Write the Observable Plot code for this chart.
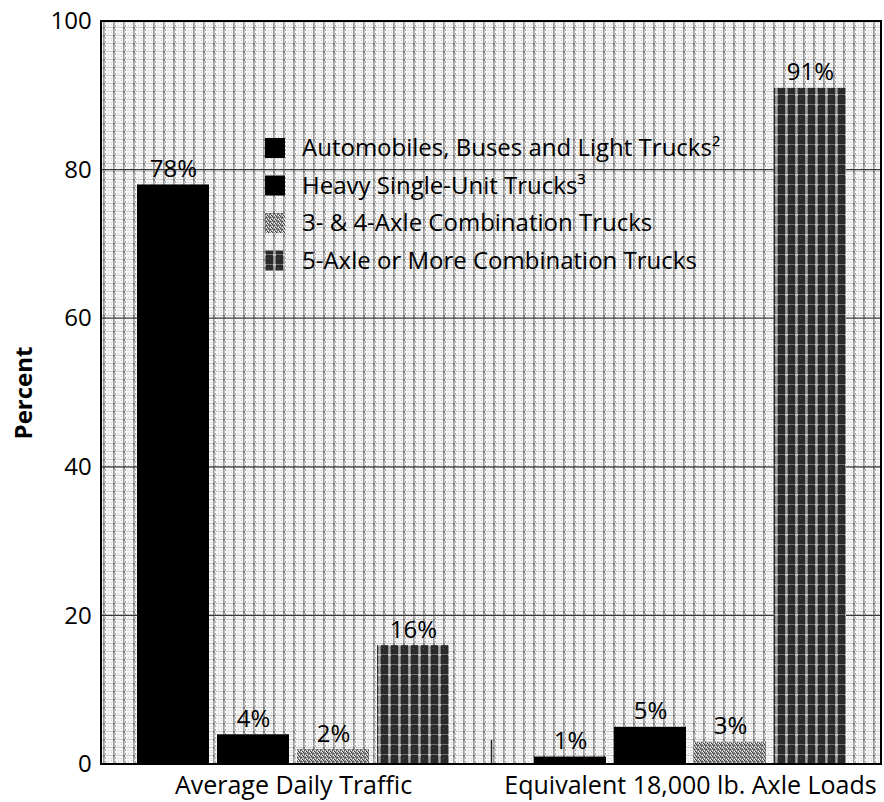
<!DOCTYPE html>
<html>
<head>
<meta charset="utf-8">
<script src="https://cdn.jsdelivr.net/npm/d3@7"></script>
<script src="https://cdn.jsdelivr.net/npm/@observablehq/plot@0.6"></script>
<style>
  html, body { margin: 0; padding: 0; background: #ffffff; }
  #chart svg { display: block; }
  #chart g[aria-label="y-axis tick label"] text { font-size: 24px; }
  #chart g[aria-label="y-axis label"] text { font-size: 24px; font-weight: bold; }
  #chart g[aria-label="fx-axis tick label"] text { font-size: 25px; }
</style>
</head>
<body>
<div id="chart"></div>
<script>
// ---- data ----
const groups = ["Average Daily Traffic", "Equivalent 18,000 lb. Axle Loads"];
const series = [
  "Automobiles, Buses and Light Trucks²",
  "Heavy Single-Unit Trucks³",
  "3- & 4-Axle Combination Trucks",
  "5-Axle or More Combination Trucks"
];
const averageDailyTraffic = [78, 4, 2, 16];
const equivalentAxleLoads = [1, 5, 3, 91];
const yTicks = [0, 20, 40, 60, 80, 100];
const gridValues = [20, 40, 60, 80];

// ---- styles ----
const seriesFills = ["#000000", "#000000", "url(#pat3)", "url(#pat4)"];

(function () {
const valuesByGroup = [averageDailyTraffic, equivalentAxleLoads];
const data = groups.flatMap((g, gi) =>
  series.map((s, si) => ({group: g, series: s, value: valuesByGroup[gi][si]}))
);

const W = 884, H = 802;
const mL = 101, mR = 3, mT = 21, mB = 38;
const fxPadIn = 0.21, fxPadOut = 0.085;
// the y axis is attached to the first facet, so offset it back to the frame edge
const fxStep = (W - mL - mR) / (groups.length - fxPadIn + 2 * fxPadOut);
const axisShift = fxPadOut * fxStep;
const font = "'Open Sans', Lato, sans-serif";

const plot = Plot.plot({
  width: W,
  height: H,
  marginLeft: mL,
  marginRight: mR,
  marginTop: mT,
  marginBottom: mB,
  style: {fontFamily: font, fontSize: "23px", color: "#000", background: "transparent", overflow: "visible"},
  fx: {domain: groups, axis: "bottom", paddingInner: fxPadIn, paddingOuter: fxPadOut, label: null, tickSize: 0, tickPadding: 12},
  x: {domain: series, axis: null, paddingInner: 0.1, paddingOuter: 0},
  y: {domain: [0, 100], ticks: yTicks, tickSize: 0, tickPadding: 11 + axisShift, label: "Percent", labelAnchor: "center", labelOffset: 88 + axisShift, labelArrow: false},
  color: {domain: series, range: seriesFills},
  marks: [
    Plot.barY(data, {fx: "group", x: "series", y: "value", fill: "series"}),
    Plot.text(data, {fx: "group", x: "series", y: "value", text: d => `${d.value}%`, lineAnchor: "bottom", dy: -8, fontSize: 24, fill: "#000"})
  ]
});

document.getElementById("chart").appendChild(plot);

// ---- decoration: patterns, background, grid, legend, frame ----
const svg = d3.select(plot);
const yS = plot.scale("y");
const fxS = plot.scale("fx");
const xLeft = mL, xRight = W - mR;
const yTop = yS.apply(100), yBottom = yS.apply(0);

const defs = svg.insert("defs", ":first-child");
function addPattern(id, w, h, base, cells) {
  const p = defs.append("pattern").attr("id", id).attr("patternUnits", "userSpaceOnUse")
    .attr("width", w).attr("height", h);
  p.append("rect").attr("width", w).attr("height", h).attr("fill", base);
  cells.forEach(([x, y, cw, ch, c]) =>
    p.append("rect").attr("x", x).attr("y", y).attr("width", cw).attr("height", ch)
      .attr("fill", c).attr("shape-rendering", "crispEdges"));
}
// plot-area background texture
addPattern("bgpat", 10, 8, "#f7f7f7", [
  [3, 0, 1, 8, "#9a9a9a"], [4, 0, 1, 8, "#bdbdbd"], [5, 1, 1, 2, "#aaaaaa"], [5, 5, 1, 2, "#b0b0b0"],
  [0, 3, 3, 1, "#c6c6c6"], [6, 3, 4, 1, "#cacaca"], [0, 6, 2, 1, "#dadada"], [7, 6, 2, 1, "#d8d8d8"],
  [3, 3, 2, 2, "#7a7a7a"], [8, 1, 1, 1, "#c0c0c0"], [1, 0, 1, 1, "#cccccc"]
]);
// light stipple (3- & 4-axle)
addPattern("pat3", 4, 4, "#9a9a9a", [
  [0, 0, 1, 1, "#3c3c3c"], [2, 1, 1, 1, "#444"], [1, 2, 1, 1, "#505050"], [3, 3, 1, 1, "#3a3a3a"],
  [2, 3, 1, 1, "#ffffff"], [0, 2, 1, 1, "#f0f0f0"], [3, 0, 1, 1, "#e0e0e0"], [1, 1, 1, 1, "#6a6a6a"]
]);
// dark check (5-axle)
addPattern("pat4", 10, 10, "#2a2a2a", [
  [3, 0, 1, 10, "#8a8a8a"], [4, 0, 1, 10, "#a8a8a8"], [5, 0, 1, 10, "#7a7a7a"],
  [0, 4, 10, 1, "#707070"], [3, 4, 3, 2, "#c4c4c4"], [8, 8, 1, 1, "#555"]
]);

const bg = svg.insert("g", "g").attr("aria-label", "background");
bg.append("rect").attr("x", xLeft).attr("y", yTop).attr("width", xRight - xLeft).attr("height", yBottom - yTop)
  .attr("fill", "url(#bgpat)");
gridValues.forEach(v => {
  bg.append("line").attr("x1", xLeft).attr("x2", xRight).attr("y1", yS.apply(v)).attr("y2", yS.apply(v))
    .attr("stroke", "#3a3a3a").attr("stroke-width", 1.2);
});

// separator tick between groups
const g0 = fxS.apply(groups[0]) + fxS.bandwidth;
const g1 = fxS.apply(groups[1]);
svg.append("line").attr("x1", (g0 + g1) / 2).attr("x2", (g0 + g1) / 2)
  .attr("y1", yBottom - 24).attr("y2", yBottom).attr("stroke", "#222").attr("stroke-width", 1.5);

// frame
svg.append("rect").attr("x", xLeft).attr("y", yTop).attr("width", xRight - xLeft).attr("height", yBottom - yTop)
  .attr("fill", "none").attr("stroke", "#000").attr("stroke-width", 2);

// legend
const legend = svg.append("g").attr("aria-label", "legend")
  .attr("font-family", font).attr("font-size", 24).attr("text-anchor", "start");
const legendX = 265, legendY0 = 148, legendStep = 37.5;
series.forEach((s, i) => {
  const cy = legendY0 + i * legendStep;
  legend.append("rect").attr("x", legendX).attr("y", cy - 10).attr("width", 20).attr("height", 20)
    .attr("fill", seriesFills[i]);
  legend.append("text").attr("x", legendX + 37).attr("y", cy).attr("dy", "0.35em")
    .attr("fill", "#000").text(s);
});

// keep the long category label inside the chart
svg.selectAll('g[aria-label="fx-axis tick label"] text').each(function() {
  const b = this.getBoundingClientRect();
  const svgB = plot.getBoundingClientRect();
  const overflow = (b.right - svgB.left) - (W - 6);
  if (overflow > 0) {
    const cur = this.getAttribute("transform") || "";
    this.setAttribute("transform", `${cur} translate(${-overflow},0)`);
  }
});
})();
</script>
</body>
</html>
